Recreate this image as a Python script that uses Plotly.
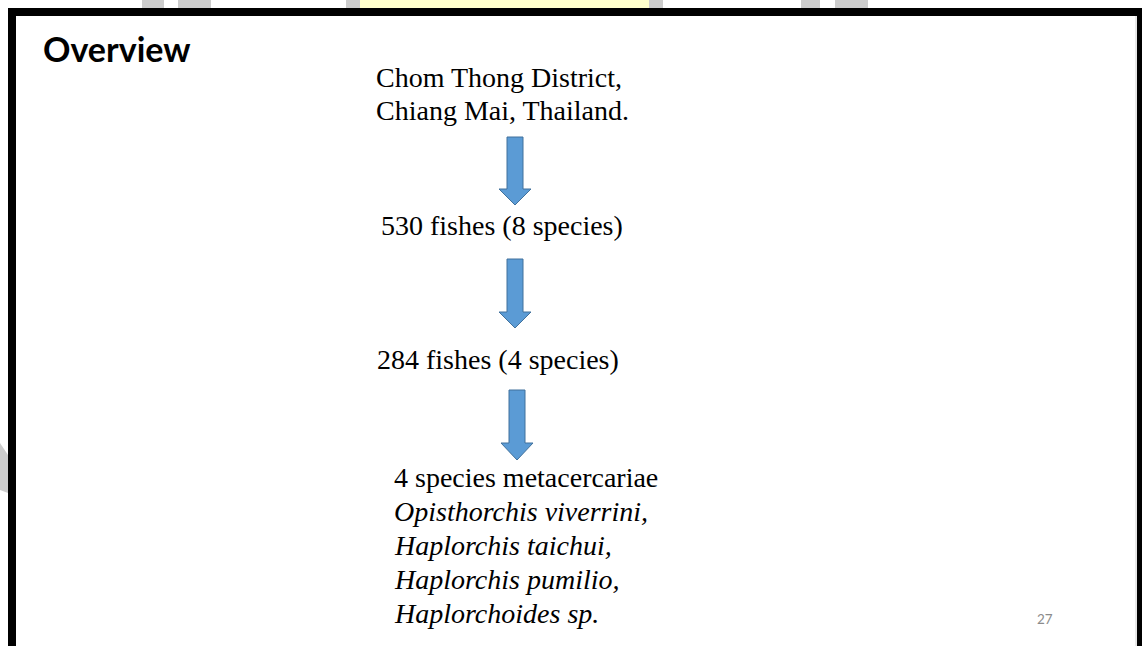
import plotly.graph_objects as go

# ---- content ----
title_text = "Overview"
location_lines = ["Chom Thong District,", "Chiang Mai, Thailand."]
step_labels = ["530 fishes (8 species)", "284 fishes (4 species)"]
result_header = "4 species metacercariae"
species_names = ["Opisthorchis viverrini,", "Haplorchis taichui,",
                 "Haplorchis pumilio,", "Haplorchoides sp."]
page_number = "27"

W, H = 1142, 646
SERIF = "Liberation Serif, Times New Roman, serif"

fig = go.Figure()
shapes = []
annotations = []

# background decorations above the frame
for x0, x1, col in [(142, 164, "#cccccc"), (178, 211, "#cccccc"), (346, 360, "#cccccc"),
                    (360, 649, "#ffffcc"), (649, 663, "#cccccc"),
                    (801, 820, "#cccccc"), (835, 868, "#cccccc")]:
    shapes.append(dict(type="rect", xref="x", yref="y", x0=x0, x1=x1, y0=0, y1=8,
                       fillcolor=col, line=dict(width=0), layer="below"))
shapes.append(dict(type="path", xref="x", yref="y",
                   path="M 0 443 L 8 455 L 8 493 L 0 490 Z",
                   fillcolor="#cccccc", line=dict(width=0), layer="below"))

# frame
shapes.append(dict(type="rect", xref="x", yref="y", x0=8, x1=W, y0=8, y1=16,
                   fillcolor="black", line=dict(width=0)))
shapes.append(dict(type="rect", xref="x", yref="y", x0=8, x1=16, y0=8, y1=H,
                   fillcolor="black", line=dict(width=0)))
shapes.append(dict(type="rect", xref="x", yref="y", x0=1137, x1=W, y0=8, y1=H,
                   fillcolor="black", line=dict(width=0)))
shapes.append(dict(type="line", xref="x", yref="y", x0=1136, x1=1136, y0=16, y1=H,
                   line=dict(color="#d0d0d0", width=1)))

# arrows
def arrow(cx, top, head, tip, sw=8, hw=16):
    p = (f"M {cx-sw} {top} L {cx+sw} {top} L {cx+sw} {head} L {cx+hw} {head} "
         f"L {cx} {tip} L {cx-hw} {head} L {cx-sw} {head} Z")
    return dict(type="path", xref="x", yref="y", path=p,
                fillcolor="#5b9bd5", line=dict(color="#41719c", width=1))

shapes.append(arrow(515, 137, 189, 205))
shapes.append(arrow(515, 259, 312, 328))
shapes.append(arrow(517, 390, 443, 460))

def txt(s, x, y, size, font=SERIF, color="black", italic=False, bold=False, xanchor="left"):
    if italic:
        s = f"<i>{s}</i>"
    if bold:
        s = f"<b>{s}</b>"
    annotations.append(dict(text=s, x=x, y=y, xref="x", yref="y", showarrow=False,
                            xanchor=xanchor, yanchor="middle",
                            font=dict(family=font, size=size, color=color)))

txt(title_text, 41, 48, 34, font="Lato, Calibri, sans-serif", bold=True)
txt(location_lines[0], 374, 77, 28)
txt(location_lines[1], 374, 110, 28)
txt(step_labels[0], 379, 225, 28)
txt(step_labels[1], 375, 359, 28)
txt(result_header, 392, 477, 28)
for i, name in enumerate(species_names):
    txt(name, 392, 511 + i * 34, 28, italic=True)
txt(page_number, 1045, 619, 13.5, font="Lato, Calibri, sans-serif", color="#8b8b8b", xanchor="center")

fig.update_layout(
    width=W, height=H, autosize=False,
    margin=dict(l=0, r=0, t=0, b=0, pad=0),
    paper_bgcolor="white", plot_bgcolor="white",
    xaxis=dict(range=[0, W], visible=False, fixedrange=True),
    yaxis=dict(range=[H, 0], visible=False, fixedrange=True),
    shapes=shapes, annotations=annotations, showlegend=False,
)
fig.write_html("out.html", config={"displayModeBar": False},
               post_script="document.body.style.margin='0';document.body.style.overflow='hidden';")
